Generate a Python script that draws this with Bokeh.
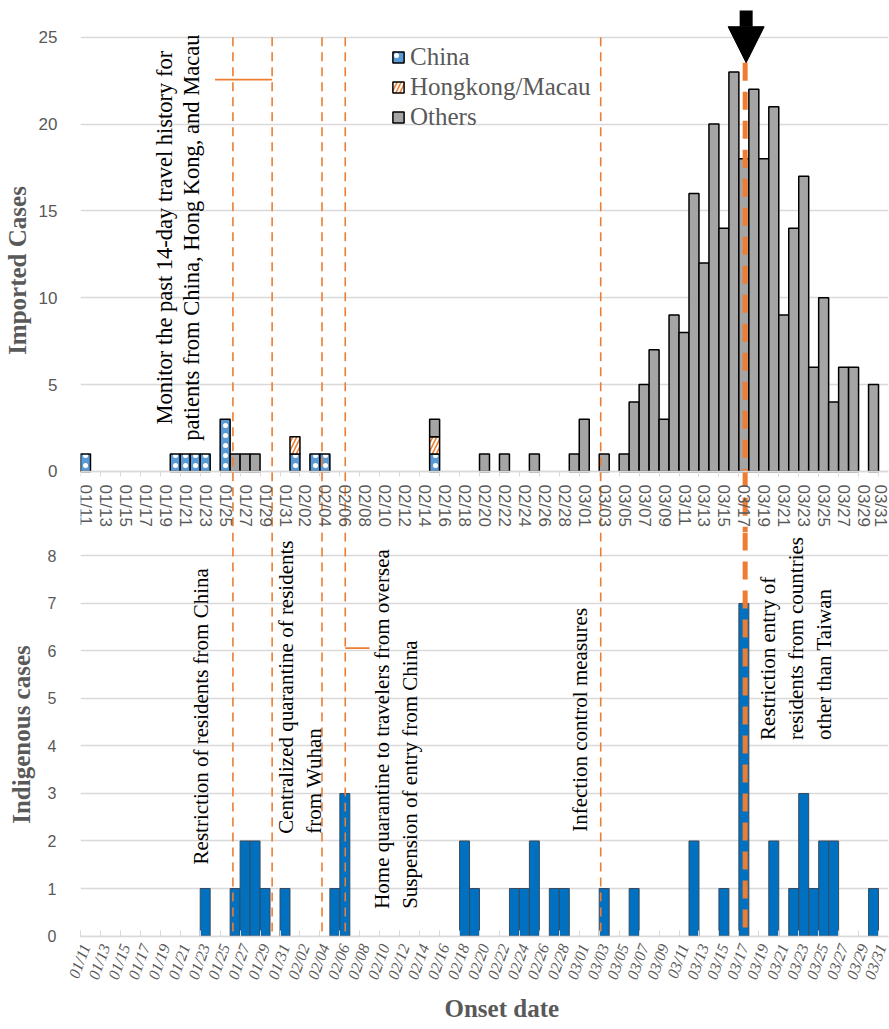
import numpy as np
import pandas as pd
from bokeh.plotting import figure
from bokeh.models import (Range1d, FixedTicker, Span, Label, Legend, LegendItem,
                          Arrow, NormalHead, ColumnDataSource, Title)
from bokeh.layouts import column
from bokeh.embed import file_html
from bokeh.resources import INLINE

# ---------------- data ----------------
dates = [d.strftime("%m/%d") for d in pd.date_range("2020-01-11", "2020-03-31")]

imported_china = [1, 0, 0, 0, 0, 0, 0, 0, 0, 1,
                  1, 1, 1, 0, 3, 0, 0, 0, 0, 0,
                  0, 1, 0, 1, 1, 0, 0, 0, 0, 0,
                  0, 0, 0, 0, 0, 1, 0, 0, 0, 0,
                  0, 0, 0, 0, 0, 0, 0, 0, 0, 0,
                  0, 0, 0, 0, 0, 0, 0, 0, 0, 0,
                  0, 0, 0, 0, 0, 0, 0, 0, 0, 0,
                  0, 0, 0, 0, 0, 0, 0, 0, 0, 0,
                  0]
imported_hk = [0, 0, 0, 0, 0, 0, 0, 0, 0, 0,
               0, 0, 0, 0, 0, 0, 0, 0, 0, 0,
               0, 1, 0, 0, 0, 0, 0, 0, 0, 0,
               0, 0, 0, 0, 0, 1, 0, 0, 0, 0,
               0, 0, 0, 0, 0, 0, 0, 0, 0, 0,
               0, 0, 0, 0, 0, 0, 0, 0, 0, 0,
               0, 0, 0, 0, 0, 0, 0, 0, 0, 0,
               0, 0, 0, 0, 0, 0, 0, 0, 0, 0,
               0]
imported_others = [0, 0, 0, 0, 0, 0, 0, 0, 0, 0,
                   0, 0, 0, 0, 0, 1, 1, 1, 0, 0,
                   0, 0, 0, 0, 0, 0, 0, 0, 0, 0,
                   0, 0, 0, 0, 0, 1, 0, 0, 0, 0,
                   1, 0, 1, 0, 0, 1, 0, 0, 0, 1,
                   3, 0, 1, 0, 1, 4, 5, 7, 3, 9,
                   8, 16, 12, 20, 14, 23, 18, 22, 18, 21,
                   9, 14, 17, 6, 10, 4, 6, 6, 0, 5,
                   0]
indigenous = [0, 0, 0, 0, 0, 0, 0, 0, 0, 0,
              0, 0, 1, 0, 0, 1, 2, 2, 1, 0,
              1, 0, 0, 0, 0, 1, 3, 0, 0, 0,
              0, 0, 0, 0, 0, 0, 0, 0, 2, 1,
              0, 0, 0, 1, 1, 2, 0, 1, 1, 0,
              0, 0, 1, 0, 0, 1, 0, 0, 0, 0,
              0, 2, 0, 0, 1, 0, 7, 0, 0, 2,
              0, 1, 3, 1, 2, 2, 0, 0, 0, 1,
              0]

series_names = ["China", "Hongkong/Macau", "Others"]
top_ticks = [0, 5, 10, 15, 20, 25]
bottom_ticks = [0, 1, 2, 3, 4, 5, 6, 7, 8]

# policy events (date) and the key date with the arrow
event_dates = ["01/26", "01/30", "02/04", "02/06", "03/03"]
key_date = "03/17"

# ---------------- style / layout ----------------
ORANGE = "#ED7D31"
GRID = "#D9D9D9"
TXT = "#595959"
SERIF = "Liberation Serif"
SANS = "Liberation Sans"
W = 889
LEFT = 77
TOP_H = 532
BOT_H = 495

event_offsets = [-0.22, -0.29, -0.29, 0.04, -0.35]
key_offset = 0.13

n = len(dates)
xs = np.arange(n)
even_ticks = [int(i) for i in xs[::2]]
minor = [i - 0.5 for i in range(0, n + 1, 2)]
overrides = {i: dates[i] for i in even_ticks}

ev_x = [dates.index(d) + o for d, o in zip(event_dates, event_offsets)]
key_x = dates.index(key_date) + key_offset

# ---------------- top panel ----------------
p1 = figure(width=W, height=TOP_H, x_range=Range1d(-0.5, n - 0.5),
            y_range=Range1d(-3.515, 26.652), output_backend="svg",
            toolbar_location=None, min_border_left=LEFT, min_border_right=1,
            min_border_top=8, min_border_bottom=0)
p1.outline_line_color = None
p1.xgrid.visible = False
p1.ygrid.ticker = FixedTicker(ticks=top_ticks)
p1.ygrid.grid_line_color = GRID
p1.ygrid.grid_line_width = 1.3

ya = p1.yaxis[0]
ya.ticker = FixedTicker(ticks=top_ticks)
ya.bounds = (0, 25)
ya.axis_line_color = None
ya.major_tick_line_color = None
ya.minor_tick_line_color = None
ya.major_label_text_font = SANS
ya.major_label_text_font_size = "17px"
ya.major_label_text_color = TXT
ya.major_label_standoff = 17
ya.axis_label = "Imported Cases"
ya.axis_label_text_font = SERIF
ya.axis_label_text_font_size = "25px"
ya.axis_label_text_font_style = "bold"
ya.axis_label_text_color = TXT
ya.axis_label_standoff = 5

xa = p1.xaxis[0]
xa.fixed_location = 0
xa.ticker = FixedTicker(ticks=even_ticks, minor_ticks=minor)
xa.major_label_overrides = overrides
xa.major_label_orientation = "vertical"
xa.major_label_text_font = SANS
xa.major_label_text_font_size = "17px"
xa.major_label_text_color = TXT
xa.major_label_standoff = 8
xa.axis_line_color = GRID
xa.axis_line_width = 1.3
xa.major_tick_line_color = None
xa.major_tick_out = 0
xa.minor_tick_line_color = GRID
xa.minor_tick_out = 5
xa.minor_tick_in = 0

styles = [
    dict(fill_color="#5B9BD5", line_color="black", line_width=1.5,
         hatch_pattern="dot", hatch_color="white", hatch_scale=10, hatch_weight=1.0),
    dict(fill_color="white", line_color="black", line_width=1.5,
         hatch_pattern="right_diagonal_line", hatch_color=ORANGE, hatch_scale=8, hatch_weight=1.6),
    dict(fill_color="#A5A5A5", line_color="black", line_width=1.5),
]
base = np.zeros(n)
renderers = []
for vals, st in zip([imported_china, imported_hk, imported_others], styles):
    v = np.array(vals, dtype=float)
    m = v > 0
    src = ColumnDataSource(dict(x=xs[m], bottom=base[m], top=(base + v)[m]))
    renderers.append(p1.vbar(x="x", bottom="bottom", top="top", width=1, source=src, **st))
    base = base + v

# event lines in top panel (from 25 down through the tick-label gap)
y_lo = p1.y_range.start
p1.segment(x0=ev_x, y0=[25] * len(ev_x), x1=ev_x, y1=[y_lo] * len(ev_x),
           line_color=ORANGE, line_width=1.6, line_dash="9 6")
p1.segment(x0=[key_x], y0=[23.53], x1=[key_x], y1=[y_lo],
           line_color=ORANGE, line_width=5, line_dash="18 11")
# connector from text to the second line
p1.segment(x0=[12.99], y0=[22.56], x1=[ev_x[1]], y1=[22.56], line_color=ORANGE, line_width=1.6)

p1.add_layout(Arrow(end=NormalHead(size=36, fill_color="black", line_color="black", line_width=1),
                    x_start=key_x + 0.1, y_start=26.53, x_end=key_x + 0.1, y_end=23.53,
                    line_width=13, line_color="black"))

p1.add_layout(Label(x=9.29, y=13.46, angle=90, angle_units="deg",
                    text="Monitor the past 14-day travel history for\npatients from China, Hong Kong, and Macau",
                    text_align="center", text_baseline="middle", text_font=SERIF,
                    text_font_size="22.5px", text_color="black", text_line_height=1.1))

legend = Legend(items=[LegendItem(label=nm, renderers=[r]) for nm, r in zip(series_names, renderers)],
                location=(311, 400), orientation="vertical", background_fill_alpha=0,
                border_line_alpha=0, label_text_font=SERIF, label_text_font_size="25px",
                label_text_color=TXT, glyph_width=14, glyph_height=14, label_height=30,
                spacing=0, padding=0, margin=0, label_standoff=5)
p1.add_layout(legend)

# ---------------- bottom panel ----------------
p2 = figure(width=W, height=BOT_H, x_range=p1.x_range, y_range=Range1d(-0.01, 8.493),
            output_backend="svg", toolbar_location=None, min_border_left=LEFT,
            min_border_right=1, min_border_top=0, min_border_bottom=86)
p2.outline_line_color = None
p2.xgrid.visible = False
p2.ygrid.ticker = FixedTicker(ticks=bottom_ticks)
p2.ygrid.grid_line_color = GRID
p2.ygrid.grid_line_width = 1.3

yb = p2.yaxis[0]
yb.ticker = FixedTicker(ticks=bottom_ticks)
yb.bounds = (0, 8)
yb.axis_line_color = None
yb.major_tick_line_color = None
yb.minor_tick_line_color = None
yb.major_label_text_font = SANS
yb.major_label_text_font_size = "16px"
yb.major_label_text_color = TXT
yb.major_label_standoff = 18
yb.axis_label = "Indigenous cases"
yb.axis_label_text_font = SERIF
yb.axis_label_text_font_size = "25px"
yb.axis_label_text_font_style = "bold"
yb.axis_label_text_color = TXT
yb.axis_label_standoff = 10

xb = p2.xaxis[0]
xb.ticker = FixedTicker(ticks=even_ticks, minor_ticks=minor)
xb.major_label_overrides = overrides
xb.major_label_orientation = np.deg2rad(70)
xb.major_label_text_font = SERIF
xb.major_label_text_font_style = "italic"
xb.major_label_text_font_size = "16px"
xb.major_label_text_color = TXT
xb.major_label_standoff = 8
xb.axis_line_color = GRID
xb.axis_line_width = 1.3
xb.major_tick_line_color = None
xb.major_tick_out = 0
xb.minor_tick_line_color = GRID
xb.minor_tick_out = 0
xb.minor_tick_in = 6

iv = np.array(indigenous, dtype=float)
mi = iv > 0
src2 = ColumnDataSource(dict(x=xs[mi], top=iv[mi]))
p2.vbar(x="x", bottom=0, top="top", width=1, source=src2,
        fill_color="#0070C0", line_color="#3A4A5C", line_width=1)

for ex in ev_x:
    p2.add_layout(Span(location=ex, dimension="height", line_color=ORANGE,
                       line_width=1.6, line_dash="9 6"))
p2.add_layout(Span(location=key_x, dimension="height", line_color=ORANGE,
                   line_width=5, line_dash="18 11"))
p2.segment(x0=[ev_x[3]], y0=[6.06], x1=[28.47], y1=[6.06], line_color=ORANGE, line_width=1.6)

bottom_notes = [
    (11.59, 1.507, "Restriction of residents from China"),
    (21.53, 2.152, "Centralized quarantine of residents\nfrom Wuhan"),
    (31.12, 0.572, "Home quarantine to travelers from oversea\nSuspension of entry from China"),
    (49.55, 2.193, "Infection control measures"),
    (71.23, 4.127, "Restriction entry of\nresidents from countries\nother than Taiwan"),
]
for bx, by, t in bottom_notes:
    p2.add_layout(Label(x=bx, y=by, angle=90, angle_units="deg", text=t,
                        text_align="left", text_baseline="middle", text_font=SERIF,
                        text_font_size="21px", text_color="black", text_line_height=1.15))

p2.add_layout(Title(text="Onset date", align="left", offset=364, text_font=SERIF,
                    text_font_size="25px", text_font_style="bold", text_color=TXT,
                    standoff=11), "below")

layout = column(p1, p2, spacing=0)
open("out.html", "w").write(file_html(layout, INLINE))
